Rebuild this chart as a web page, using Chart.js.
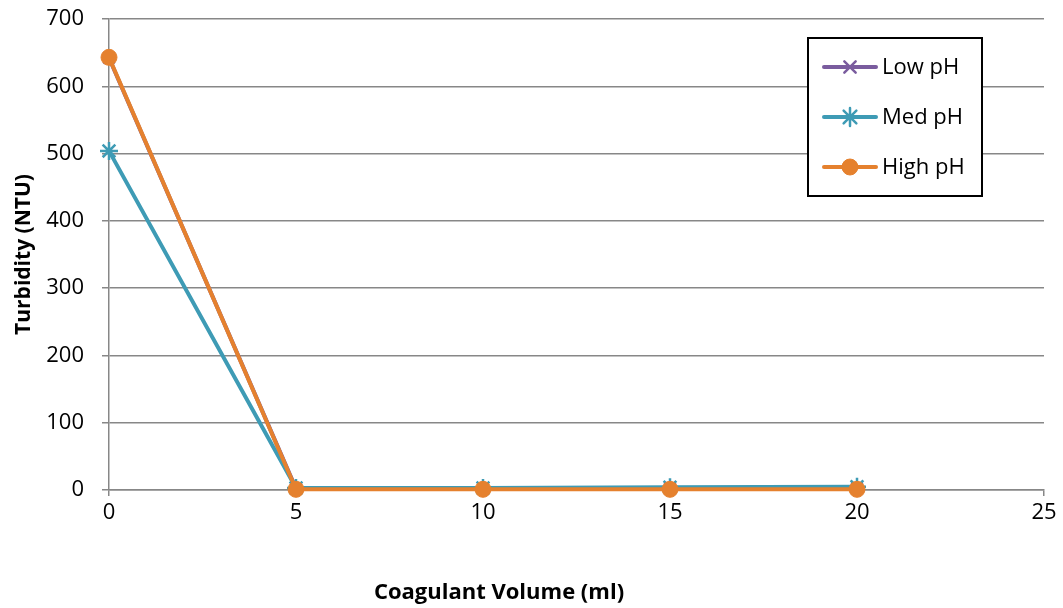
<!DOCTYPE html>
<html>
<head>
<meta charset="utf-8">
<script src="https://cdn.jsdelivr.net/npm/chart.js@4.4.1/dist/chart.umd.min.js"></script>
<style>
  html, body { margin: 0; padding: 0; background: #fff; }
  #wrap { width: 1063px; height: 608px; position: relative; }
</style>
</head>
<body>
<div id="wrap"><canvas id="turbChart"></canvas></div>
<script>
const volumes = [0, 5, 10, 15, 20];
const lowPH = [642, 2, 2, 3, 3];
const medPH = [504, 3, 3, 4, 5];
const highPH = [643, 1, 1, 1, 1];
const seriesNames = ['Low pH', 'Med pH', 'High pH'];
const xTitle = 'Coagulant Volume (ml)';

const FONT = '"Open Sans", Lato, sans-serif';
const GRID = '#878787';

function toPoints(ys) {
    return volumes.map((v, i) => ({ x: v, y: ys[i] }));
}

// legend box drawn inside the plot, like a spreadsheet chart
const boxLegend = {
    id: 'boxLegend',
    afterDraw(chart) {
        const ctx = chart.ctx;
        const x0 = 808, y0 = 38, w = 174, h = 158;
        ctx.save();
        ctx.fillStyle = '#fff';
        ctx.fillRect(x0, y0, w, h);
        ctx.strokeStyle = '#000';
        ctx.lineWidth = 2;
        ctx.strokeRect(x0, y0, w, h);
        seriesNames.forEach((name, i) => {
            const ds = chart.data.datasets.find(d => d.label === name);
            const y = y0 + 29 + i * 50;
            ctx.strokeStyle = ds.borderColor;
            ctx.lineWidth = 4;
            ctx.lineCap = 'round';
            ctx.beginPath();
            ctx.moveTo(824, y);
            ctx.lineTo(876, y);
            ctx.stroke();
            ctx.fillStyle = ds.backgroundColor;
            ctx.strokeStyle = ds.borderColor;
            ctx.lineWidth = ds.pointBorderWidth;
            Chart.helpers.drawPoint(ctx, {
                pointStyle: ds.pointStyle,
                radius: ds.pointRadius,
                borderWidth: ds.pointBorderWidth
            }, 850, y);
            ctx.fillStyle = '#000';
            ctx.font = '22px ' + FONT;
            ctx.textBaseline = 'middle';
            ctx.fillText(name, 882, y + 1);
        });
        ctx.restore();
    }
};

// x axis title sits a little left of the plot centre
const xTitlePlugin = {
    id: 'xTitlePlugin',
    afterDraw(chart) {
        const ctx = chart.ctx;
        ctx.save();
        ctx.fillStyle = '#000';
        ctx.font = 'bold 22px ' + FONT;
        ctx.textAlign = 'center';
        ctx.textBaseline = 'middle';
        ctx.fillText(xTitle, 499, 593);
        ctx.restore();
    }
};

const ctx = document.getElementById('turbChart').getContext('2d');
const turbChart = new Chart(ctx, {
    type: 'line',
    data: {
        datasets: [
            {
                label: seriesNames[2],
                data: toPoints(highPH),
                borderColor: '#E5812E',
                backgroundColor: '#E5812E',
                pointStyle: 'circle',
                pointRadius: 8,
                pointBorderWidth: 1,
                borderWidth: 4,
                clip: false,
                order: 0
            },
            {
                label: seriesNames[1],
                data: toPoints(medPH),
                borderColor: '#3E9BB5',
                backgroundColor: '#3E9BB5',
                pointStyle: 'star',
                pointRadius: 9,
                pointBorderWidth: 2.5,
                borderWidth: 4,
                clip: false,
                order: 1
            },
            {
                label: seriesNames[0],
                data: toPoints(lowPH),
                borderColor: '#7A5C9E',
                backgroundColor: '#7A5C9E',
                pointStyle: 'crossRot',
                pointRadius: 8,
                pointBorderWidth: 2.5,
                borderWidth: 4,
                clip: false,
                order: 2
            }
        ]
    },
    options: {
        responsive: true,
        maintainAspectRatio: false,
        animation: false,
        layout: { padding: { top: 19, right: 19, left: 0, bottom: 0 } },
        scales: {
            x: {
                type: 'linear',
                min: 0,
                max: 25,
                ticks: { stepSize: 5, color: '#000', font: { family: FONT, size: 22 }, padding: 4 },
                grid: { display: true, drawOnChartArea: false, color: GRID, lineWidth: 1.5, tickLength: 6 },
                border: { color: GRID, width: 1.5 },
                afterFit(scale) {
                    scale.height = 118;
                    scale.paddingRight = 0;
                }
            },
            y: {
                min: 0,
                max: 700,
                ticks: { stepSize: 100, color: '#000', font: { family: FONT, size: 22 }, padding: 18 },
                grid: { color: GRID, lineWidth: 1.5, tickLength: 7 },
                border: { color: GRID, width: 1.5 },
                title: {
                    display: true,
                    text: 'Turbidity (NTU)',
                    color: '#000',
                    font: { family: FONT, size: 21, weight: 'bold' },
                    padding: { top: 11, bottom: 0 }
                },
                afterFit(scale) {
                    scale.width = 109;
                    scale.paddingTop = 0;
                }
            }
        },
        plugins: {
            legend: { display: false },
            tooltip: { enabled: false }
        }
    },
    plugins: [boxLegend, xTitlePlugin]
});
</script>
</body>
</html>
